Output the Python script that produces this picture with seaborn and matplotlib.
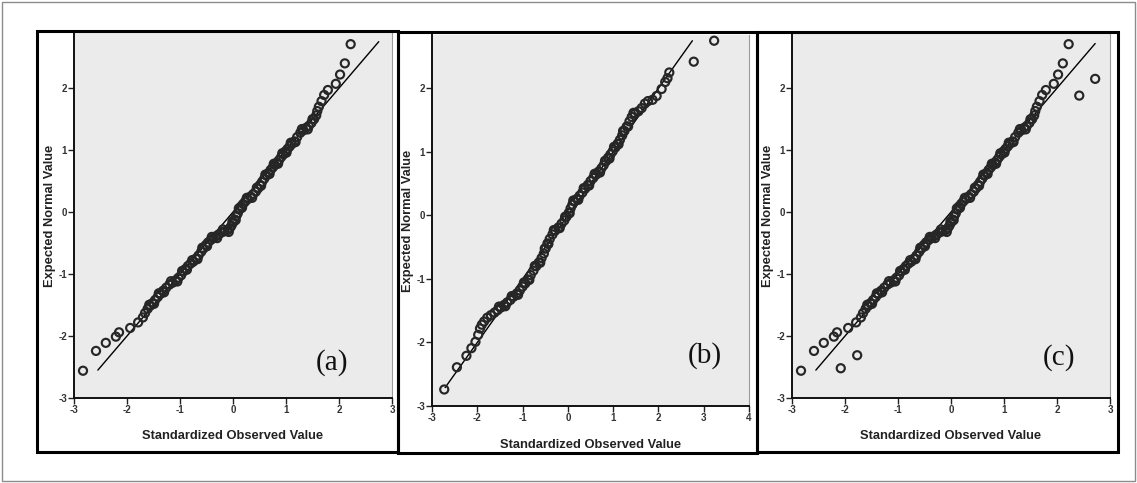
import matplotlib
matplotlib.use("Agg")
import matplotlib.pyplot as plt
from matplotlib.patches import Rectangle
import seaborn as sns
import pandas as pd

# ==========================
# values
# ==========================

# (a) observed (x) and expected (y)
a_obs = [-2.83, -2.585, -2.40, -2.21, -2.15, -1.94, -1.79, -1.70, -1.66, -1.61,
         -1.56, -1.52, -1.47, -1.42, -1.37, -1.32, -1.26, -1.20, -1.14, -1.08,
         -1.03, -0.98, -0.94, -0.90, -0.85, -0.80, -0.75, -0.70, -0.65, -0.60,
         -0.56, -0.51, -0.47, -0.42, -0.37, -0.32, -0.27, -0.22, -0.16, -0.10,
         -0.06, -0.03, 0.00, 0.03, 0.06, 0.09, 0.12, 0.15, 0.19, 0.23,
         0.28, 0.33, 0.38, 0.43, 0.47, 0.51, 0.55, 0.59, 0.63, 0.67,
         0.71, 0.75, 0.79, 0.83, 0.87, 0.91, 0.95, 0.99, 1.03, 1.07,
         1.11, 1.16, 1.21, 1.27, 1.33, 1.38, 1.43, 1.48, 1.53, 1.57,
         1.59, 1.62, 1.67, 1.72, 1.79, 1.94, 2.02, 2.11, 2.22]
a_exp = [-2.56, -2.24, -2.11, -2.01, -1.94, -1.87, -1.78, -1.70, -1.63, -1.56,
         -1.51, -1.47, -1.42, -1.37, -1.32, -1.27, -1.22, -1.17, -1.14, -1.10,
         -1.06, -1.02, -0.96, -0.92, -0.87, -0.83, -0.80, -0.75, -0.70, -0.64,
         -0.59, -0.53, -0.49, -0.45, -0.42, -0.39, -0.36, -0.33, -0.31, -0.29,
         -0.26, -0.22, -0.17, -0.12, -0.07, -0.02, 0.04, 0.09, 0.13, 0.17,
         0.21, 0.25, 0.29, 0.33, 0.38, 0.44, 0.49, 0.54, 0.59, 0.63,
         0.68, 0.72, 0.76, 0.80, 0.84, 0.89, 0.93, 0.98, 1.02, 1.06,
         1.10, 1.14, 1.21, 1.28, 1.32, 1.36, 1.39, 1.44, 1.50, 1.56,
         1.63, 1.70, 1.79, 1.89, 1.97, 2.07, 2.22, 2.40, 2.71]
# overlapping points inside the dark middle band (estimated)
a_band_obs = [-1.58, -1.49, -1.40, -1.30, -1.17, -1.05, -0.96, -0.87, -0.77, -0.67,
              -0.58, -0.49, -0.40, -0.30, -0.19, -0.08, -0.01, 0.05, 0.11, 0.17,
              0.26, 0.36, 0.45, 0.53, 0.61, 0.69, 0.77, 0.85, 0.93, 1.01,
              1.09, 1.18, 1.30, 1.41, 1.50]
a_band_exp = [-1.495, -1.48, -1.31, -1.295, -1.115, -1.12, -0.95, -0.93, -0.775, -0.76,
              -0.575, -0.55, -0.40, -0.42, -0.28, -0.32, -0.15, -0.13, 0.06, 0.07,
              0.23, 0.23, 0.395, 0.425, 0.605, 0.615, 0.78, 0.78, 0.95, 0.96,
              1.12, 1.13, 1.34, 1.335, 1.50]
a_line = [-2.55, 2.75]

# (b)
b_obs = [-2.73, -2.45, -2.24, -2.13, -2.04, -1.98, -1.94, -1.90, -1.85, -1.78,
         -1.70, -1.62, -1.55, -1.48, -1.41, -1.34, -1.27, -1.20, -1.13, -1.06,
         -1.00, -0.94, -0.88, -0.82, -0.76, -0.70, -0.64, -0.58, -0.53, -0.49,
         -0.45, -0.40, -0.34, -0.28, -0.21, -0.14, -0.08, -0.03, 0.02, 0.06,
         0.10, 0.15, 0.20, 0.26, 0.32, 0.38, 0.44, 0.50, 0.56, 0.62,
         0.68, 0.74, 0.79, 0.84, 0.89, 0.94, 0.99, 1.05, 1.10, 1.15,
         1.20, 1.25, 1.30, 1.36, 1.41, 1.48, 1.56, 1.63, 1.70, 1.77,
         1.87, 1.96, 2.07, 2.15, 2.20, 2.24, 2.78, 3.23]
b_exp = [-2.74, -2.39, -2.21, -2.09, -1.99, -1.88, -1.78, -1.72, -1.67, -1.61,
         -1.57, -1.53, -1.49, -1.45, -1.41, -1.37, -1.33, -1.28, -1.23, -1.18,
         -1.12, -1.07, -1.01, -0.94, -0.87, -0.80, -0.74, -0.67, -0.60, -0.52,
         -0.44, -0.37, -0.30, -0.24, -0.19, -0.13, -0.08, -0.02, 0.04, 0.11,
         0.17, 0.22, 0.26, 0.31, 0.36, 0.42, 0.48, 0.54, 0.59, 0.64,
         0.69, 0.74, 0.79, 0.85, 0.91, 0.96, 1.01, 1.07, 1.13, 1.19,
         1.26, 1.33, 1.40, 1.48, 1.55, 1.60, 1.64, 1.69, 1.76, 1.80,
         1.82, 1.88, 1.99, 2.10, 2.16, 2.25, 2.42, 2.75]
b_band_obs = [-1.52, -1.38, -1.24, -1.10, -0.97, -0.85, -0.73, -0.61, -0.51, -0.43,
              -0.31, -0.18, -0.06, 0.04, 0.12, 0.23, 0.35, 0.47, 0.59, 0.71,
              0.82, 0.92, 1.02, 1.12, 1.22, 1.33, 1.45]
b_band_exp = [-1.435, -1.43, -1.27, -1.25, -1.055, -1.015, -0.795, -0.745, -0.52, -0.45,
              -0.23, -0.20, -0.02, 0.035, 0.235, 0.245, 0.43, 0.47, 0.655, 0.675,
              0.86, 0.895, 1.08, 1.12, 1.33, 1.40, 1.615]
b_line = [-2.71, 2.75]

# (c) same sample shape as (a) plus four stray points
c_extra_obs = [-2.08, -1.77, 2.42, 2.72]
c_extra_exp = [-2.52, -2.31, 1.88, 2.15]
c_obs = a_obs + a_band_obs + c_extra_obs
c_exp = a_exp + a_band_exp + c_extra_exp
c_line = [-2.55, 2.72]

panels = [
    ("(a)", a_obs + a_band_obs, a_exp + a_band_exp, a_line, [-3, -2, -1, 0, 1, 2, 3], (1.87, -2.42)),
    ("(b)", b_obs + b_band_obs, b_exp + b_band_exp, b_line, [-3, -2, -1, 0, 1, 2, 3, 4], (3.02, -2.2)),
    ("(c)", c_obs, c_exp, c_line, [-3, -2, -1, 0, 1, 2, 3], (2.04, -2.35)),
]

W, H = 1137, 483
sns.set_theme(style="white")
plt.rcParams['font.family'] = ['Liberation Sans', 'DejaVu Sans']
plt.rcParams['axes.unicode_minus'] = False

fig = plt.figure(figsize=(W / 100, H / 100), dpi=100)

# axes boxes in pixels: left, right, top, bottom, y top limit
ax_px = [(74, 392, 33, 398, 2.89), (432, 749, 35, 406, 2.84), (792, 1110, 33, 398, 2.89)]
frame_px = [(37, 398, 31, 452), (398, 757, 32, 453), (757, 1118, 32, 452)]

# outer thin border
fig.patches.append(Rectangle((2 / W, 2 / H), (W - 4) / W, (H - 4) / H, transform=fig.transFigure,
                             fill=False, edgecolor='#8c8c8c', lw=1))

for (label, obs, exp, line, xt, lab_pos), (l, r, t, b, ytop), (fl, fr, ft, fb) in zip(panels, ax_px, frame_px):
    ax = fig.add_axes([l / W, (H - b) / H, (r - l) / W, (b - t) / H])
    ax.set_facecolor('#ebebeb')

    df = pd.DataFrame({'obs': obs, 'exp': exp})
    sns.lineplot(x=line, y=line, ax=ax, color='black', lw=1)
    sns.scatterplot(x='obs', y='exp', data=df, ax=ax, s=34, marker='o',
                    facecolor='none', edgecolor='#262626', linewidth=1.55, zorder=3)

    ax.set_xlim(xt[0], xt[-1])
    ax.set_ylim(-3, ytop)
    ax.set_xticks(xt)
    ax.set_yticks([-3, -2, -1, 0, 1, 2])
    ax.tick_params(axis='both', direction='out', length=4, width=1, color='#222222',
                   labelsize=7, labelcolor='#333333', pad=1, bottom=True, left=True)
    for tl in ax.get_xticklabels() + ax.get_yticklabels():
        tl.set_fontweight('bold')

    for side in ['left', 'bottom']:
        ax.spines[side].set_color('#111111')
        ax.spines[side].set_linewidth(1.4)
    ax.spines['top'].set_visible(False)
    ax.spines['right'].set_color('#9a9a9a')
    ax.spines['right'].set_linewidth(0.8)

    ax.set_xlabel('Standardized Observed Value', fontsize=9.3, fontweight='bold', color='#222222')
    ax.set_ylabel('Expected Normal Value', fontsize=9.3, fontweight='bold', color='#222222')
    ax.xaxis.set_label_coords(0.5, -0.088)
    ax.yaxis.set_label_coords(-0.058, 0.5)

    ax.text(lab_pos[0], lab_pos[1], label, family='Liberation Serif', fontsize=21,
            ha='center', va='center', color='#111111')

    # thick black frame round each panel
    fig.patches.append(Rectangle((fl / W, (H - fb) / H), (fr - fl) / W, (fb - ft) / H,
                                 transform=fig.transFigure, fill=False, edgecolor='black', lw=2.2))

fig.savefig('out.png', dpi=100, facecolor='white')
